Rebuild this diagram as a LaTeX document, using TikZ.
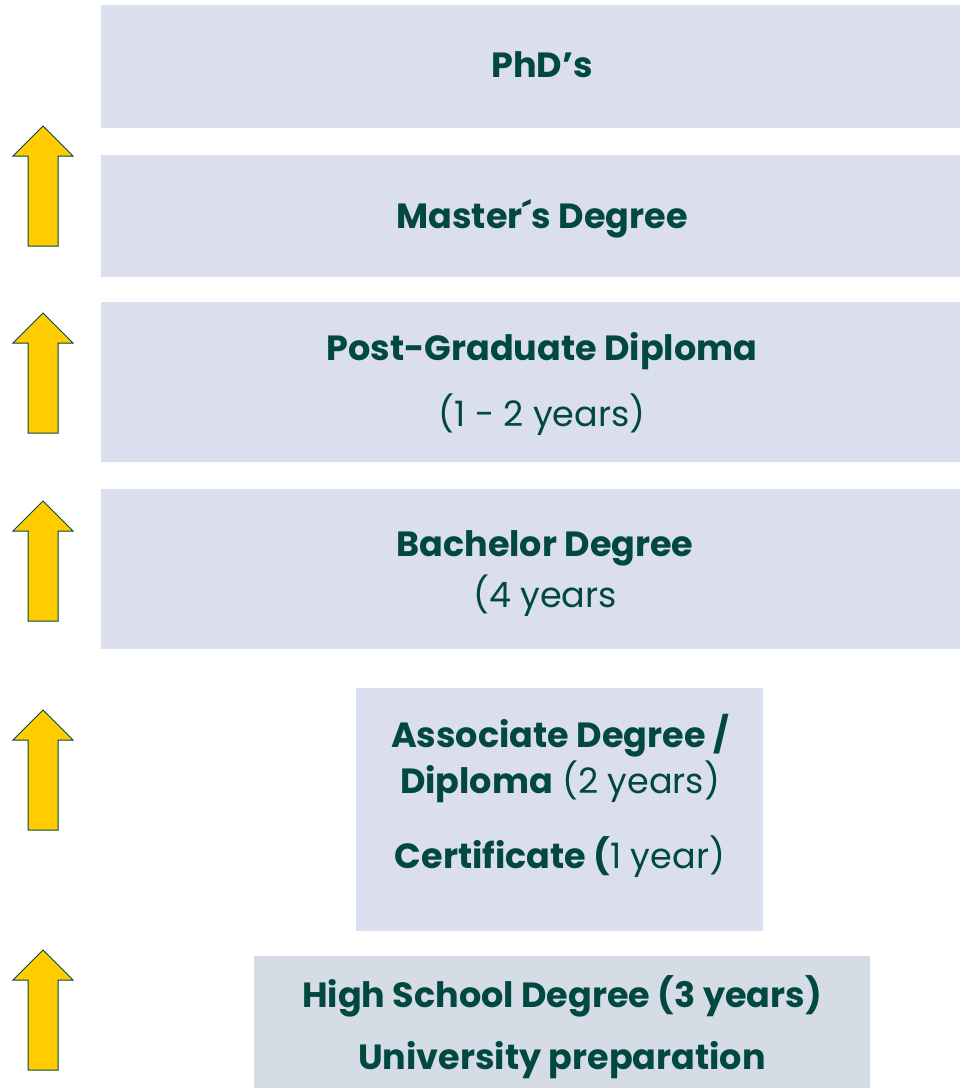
\documentclass[tikz,border=0pt]{standalone}
\usepackage{fontspec}
\setmainfont{Poppins}
\definecolor{boxfill}{RGB}{219,222,238}
\definecolor{hsfill}{RGB}{213,220,230}
\definecolor{txt}{RGB}{0,72,64}
\definecolor{gold}{RGB}{255,204,0}
\begin{document}
\begin{tikzpicture}[x=1pt,y=-1pt,
  levelbox/.style={fill=boxfill,draw=none,anchor=north west,inner sep=0pt},
  line/.style={text=txt,anchor=base,inner sep=0pt,font=\fontsize{35}{40}\selectfont},
  uparr/.pic={\draw[fill=gold,draw=txt,line width=1pt,line join=miter]
     (-15,0) -- (-15,-90) -- (-30,-90) -- (0,-120) -- (30,-90) -- (15,-90) -- (15,0) -- cycle;}]
\useasboundingbox (0,0) rectangle (960,1088);
% boxes
\node[levelbox,minimum width=859pt,minimum height=123pt] (phd) at (101,5) {};
\node[levelbox,minimum width=859pt,minimum height=122pt] (ms) at (101,155) {};
\node[levelbox,minimum width=859pt,minimum height=160pt] (pg) at (101,302) {};
\node[levelbox,minimum width=859pt,minimum height=160pt] (ba) at (101,489) {};
\node[levelbox,minimum width=407pt,minimum height=243pt] (as) at (356,688) {};
\node[levelbox,fill=hsfill,minimum width=616pt,minimum height=132pt] (hs) at (254,956) {};
% texts
\node[line] (t1) at (542,77) {\bfseries PhD’s};
\node[line] (t2) at (542,228) {\bfseries Master´s Degree};
\node[line] (t3) at (542,360) {\bfseries Post-Graduate Diploma};
\node[line] (t4) at (542,426) {(1 - 2 years)};
\node[line] (t5) at (545,556) {\bfseries Bachelor Degree};
\node[line] (t6) at (545,607) {(4 years};
\node[line] (t7) at (560,747) {\bfseries Associate Degree /};
\node[line] (t8) at (560,793) {\bfseries Diploma\mdseries{} (2 years)};
\node[line] (t9) at (560,868) {\bfseries Certificate (\mdseries 1 year)};
\node[line] (t10) at (562,1007) {\bfseries High School Degree (3 years)};
\node[line] (t11) at (562,1069) {\bfseries University preparation};
% arrows
\pic at (43,246) {uparr};
\pic at (43,433) {uparr};
\pic at (43,621) {uparr};
\pic at (43,830) {uparr};
\pic at (43,1070) {uparr};
\end{tikzpicture}
\end{document}
